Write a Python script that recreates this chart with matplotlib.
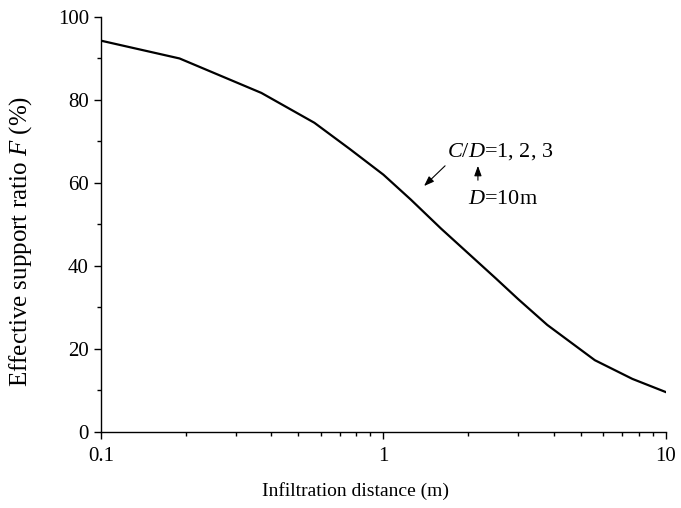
import matplotlib
matplotlib.use("Agg")
import matplotlib.pyplot as plt
from matplotlib.ticker import FixedLocator, LogLocator, NullFormatter

# values
distance = [0.1, 0.19, 0.37, 0.57, 0.76, 1.0, 1.25, 1.6, 2.0, 2.5, 3.0, 3.8, 5.6, 7.6, 10]
ratio = [94.3, 90.0, 81.7, 74.5, 68.2, 62.0, 56.0, 49.0, 43.0, 37.0, 32.0, 25.8, 17.3, 12.8, 9.6]

x_ticks = [0.1, 1, 10]
x_labels = ["0.1", "1", "10"]
y_ticks = [0, 20, 40, 60, 80, 100]

plt.rcParams["font.family"] = ["Liberation Serif", "DejaVu Serif"]
plt.rcParams["mathtext.fontset"] = "custom"
plt.rcParams["mathtext.rm"] = "Liberation Serif"
plt.rcParams["mathtext.it"] = "Liberation Serif:italic"

fig = plt.figure(figsize=(6.81, 5.08), dpi=100)
ax = fig.add_axes([0.148, 0.1496, 0.830, 0.817])

ax.plot(distance, ratio, color="black", lw=1.6)

ax.set_xscale("log")
ax.set_xlim(0.1, 10)
ax.set_ylim(0, 100)
ax.xaxis.set_major_locator(FixedLocator(x_ticks))
ax.set_xticklabels(x_labels)
ax.xaxis.set_minor_locator(LogLocator(base=10, subs=range(2, 10)))
ax.xaxis.set_minor_formatter(NullFormatter())
ax.set_yticks(y_ticks)
ax.yaxis.set_minor_locator(FixedLocator([10, 30, 50, 70, 90]))

for side in ["top", "right"]:
    ax.spines[side].set_visible(False)
for side in ["left", "bottom"]:
    ax.spines[side].set_linewidth(1.0)

ax.tick_params(which="major", direction="out", length=5, width=1.0, labelsize=15)
ax.tick_params(which="minor", direction="out", length=3, width=1.0)
ax.tick_params(axis="x", pad=6)

ax.set_xlabel("Infiltration distance (m)", fontsize=14)
ax.xaxis.set_label_coords(0.451, -0.12)
ax.set_ylabel("Effective support ratio $F$ (%)", fontsize=18)
ax.yaxis.set_label_coords(-0.118, 0.459)

# annotations
ax.text(2.58, 67.5, "$C/D$=1, 2, 3", fontsize=16, ha="center", va="center")
ax.text(2.65, 55.9, "$D$=10m", fontsize=16, ha="center", va="center")
arrow = dict(arrowstyle="-|>,head_length=0.6,head_width=0.22", color="black", lw=0.8)
ax.annotate("", xy=(1.37, 58.8), xytext=(1.68, 64.6), arrowprops=arrow)
ax.annotate("", xy=(2.16, 64.8), xytext=(2.16, 60.0), arrowprops=arrow)

fig.savefig("out.png", dpi=100)
